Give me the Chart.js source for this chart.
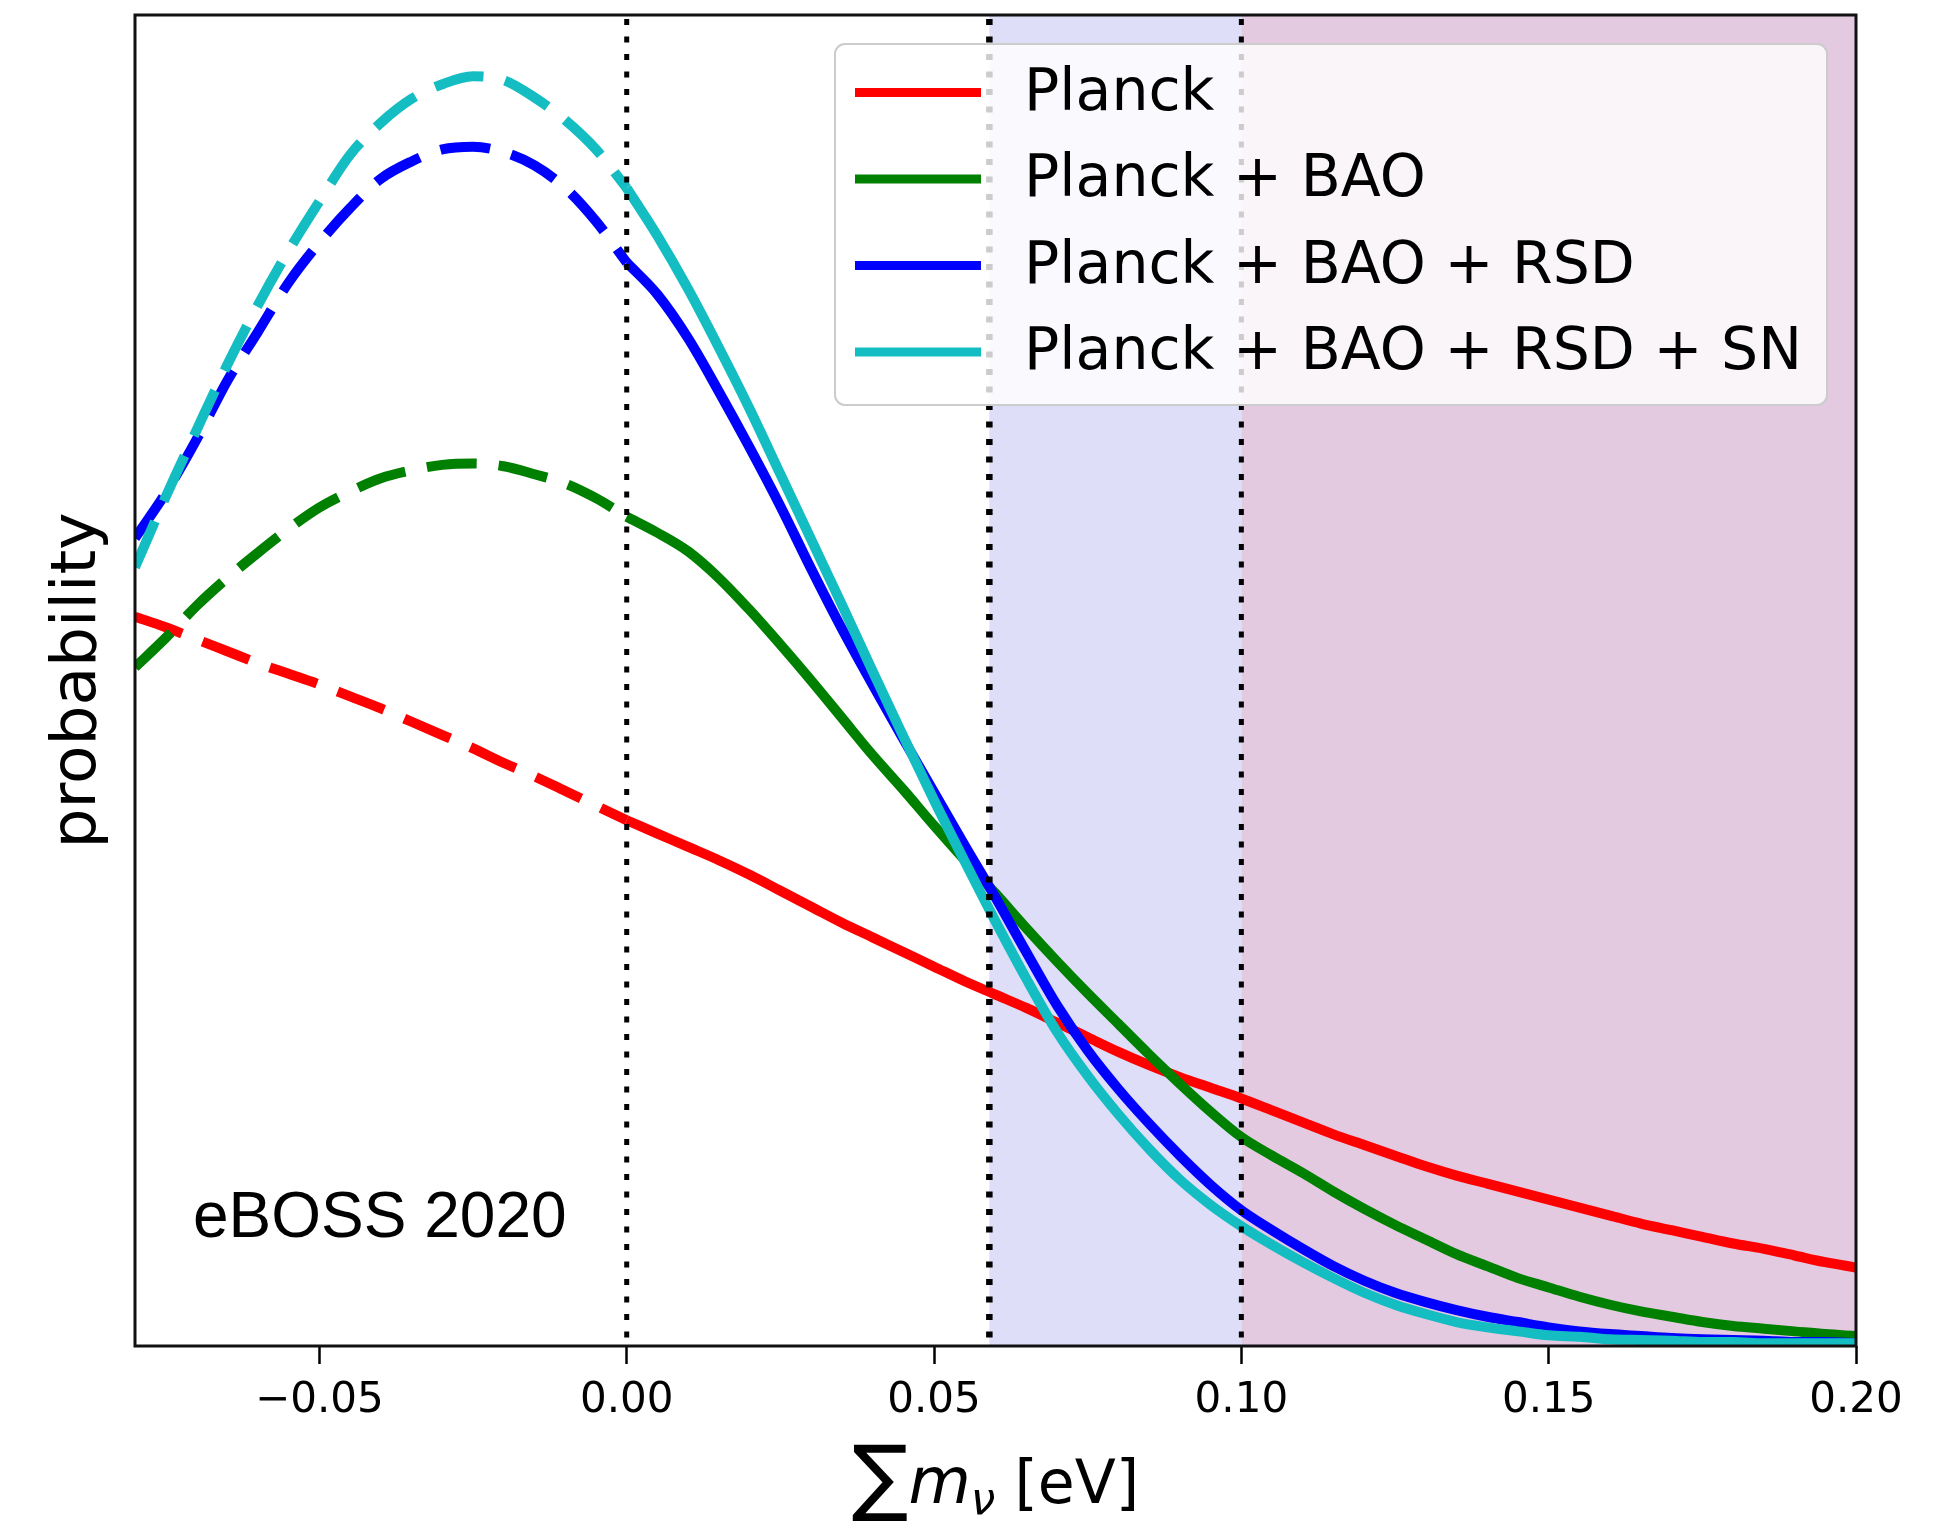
<!DOCTYPE html>
<html>
<head>
<meta charset="utf-8">
<title>Soma das massas dos neutrinos</title>
<script src="https://cdn.jsdelivr.net/npm/chart.js@4.4.1/dist/chart.umd.min.js"></script>
<style>
  html, body { margin: 0; padding: 0; background: #fff; }
</style>
</head>
<body>
<canvas id="grafico-neutrinos" width="1953" height="1527"></canvas>
<script>
// eixo x em eV: trecho tracejado (x <= 0) e trecho contínuo (x >= 0)
const xNegativo = [-0.08, -0.075, -0.07, -0.065, -0.06, -0.055, -0.05, -0.045, -0.04,
  -0.035, -0.03, -0.025, -0.02, -0.015, -0.01, -0.005, 0];
const xPositivo = [0, 0.005, 0.01, 0.015, 0.02, 0.025, 0.03, 0.035, 0.04, 0.045, 0.05,
  0.055, 0.06, 0.065, 0.07, 0.075, 0.08, 0.085, 0.09, 0.095, 0.1, 0.105, 0.11, 0.115,
  0.12, 0.125, 0.13, 0.135, 0.14, 0.145, 0.15, 0.155, 0.16, 0.165, 0.17, 0.175, 0.18,
  0.185, 0.19, 0.195, 0.2];

const planckNeg = [0.548, 0.540, 0.531, 0.522, 0.513, 0.505, 0.497, 0.488, 0.479,
  0.469, 0.459, 0.449, 0.438, 0.428, 0.417, 0.406, 0.395];
const planckPos = [0.395, 0.385, 0.375, 0.365, 0.354, 0.342, 0.330, 0.318, 0.307, 0.296,
  0.285, 0.274, 0.264, 0.254, 0.243, 0.232, 0.221, 0.211, 0.202, 0.194, 0.186, 0.177,
  0.168, 0.159, 0.151, 0.143, 0.135, 0.128, 0.122, 0.116, 0.110, 0.104, 0.098, 0.092,
  0.087, 0.082, 0.077, 0.073, 0.068, 0.063, 0.059];

const baoNeg = [0.510, 0.532, 0.556, 0.577, 0.596, 0.614, 0.630, 0.642, 0.652,
  0.658, 0.662, 0.663, 0.661, 0.655, 0.648, 0.637, 0.623];
const baoPos = [0.623, 0.611, 0.597, 0.577, 0.553, 0.527, 0.500, 0.472, 0.444, 0.418,
  0.391, 0.365, 0.340, 0.314, 0.289, 0.265, 0.242, 0.219, 0.197, 0.176, 0.157, 0.143,
  0.130, 0.116, 0.103, 0.091, 0.080, 0.069, 0.060, 0.051, 0.044, 0.037, 0.031, 0.026,
  0.022, 0.018, 0.015, 0.013, 0.011, 0.009, 0.0075];

const rsdNeg = [0.607, 0.641, 0.681, 0.725, 0.762, 0.799, 0.829, 0.855, 0.877,
  0.890, 0.899, 0.901, 0.897, 0.887, 0.870, 0.845, 0.814];
const rsdPos = [0.814, 0.790, 0.757, 0.717, 0.675, 0.631, 0.584, 0.539, 0.497, 0.456,
  0.416, 0.376, 0.337, 0.296, 0.256, 0.222, 0.193, 0.167, 0.143, 0.121, 0.102, 0.087,
  0.073, 0.060, 0.049, 0.040, 0.033, 0.027, 0.022, 0.018, 0.014, 0.011, 0.009, 0.0075,
  0.006, 0.005, 0.0045, 0.004, 0.003, 0.003, 0.002];

const snNeg = [0.585, 0.638, 0.688, 0.737, 0.782, 0.823, 0.860, 0.895, 0.919,
  0.937, 0.948, 0.954, 0.951, 0.938, 0.921, 0.899, 0.870];
const snPos = [0.870, 0.834, 0.794, 0.750, 0.704, 0.655, 0.606, 0.557, 0.507, 0.458,
  0.410, 0.364, 0.319, 0.276, 0.236, 0.203, 0.174, 0.148, 0.125, 0.106, 0.090, 0.076,
  0.063, 0.051, 0.040, 0.031, 0.024, 0.018, 0.014, 0.011, 0.008, 0.007, 0.005, 0.0045,
  0.004, 0.003, 0.003, 0.002, 0.002, 0.002, 0.002];

const rotulos = ["Planck", "Planck + BAO", "Planck + BAO + RSD", "Planck + BAO + RSD + SN"];
const cores = ["#ff0000", "#008000", "#0000ff", "#14bdc2"];

const xTicks = [-0.05, 0, 0.05, 0.1, 0.15, 0.2];
const limites = [0, 0.059, 0.1];
const faixas = [[0.059, 0.1], [0.1, 0.2]];
const coresFaixas = ["#dfdef9", "#e3cae1"];

document.addEventListener("DOMContentLoaded", () => {
  const pontos = (xs, ys) => xs.map((x, i) => ({ x: x, y: ys[i] }));

  const series = [
    { neg: planckNeg, pos: planckPos },
    { neg: baoNeg, pos: baoPos },
    { neg: rsdNeg, pos: rsdPos },
    { neg: snNeg, pos: snPos }
  ];

  // o Chart.js desenha o primeiro dataset por cima, então a ordem vai invertida
  const datasets = [];
  for (let i = series.length - 1; i >= 0; i--) {
    datasets.push({
      label: rotulos[i],
      data: pontos(xPositivo, series[i].pos),
      borderColor: cores[i],
      borderWidth: 10,
      cubicInterpolationMode: "monotone",
      pointRadius: 0
    });
    datasets.push({
      label: rotulos[i] + " (x<0)",
      data: pontos(xNegativo, series[i].neg),
      borderColor: cores[i],
      borderWidth: 10,
      borderDash: [50, 22],
      borderCapStyle: "butt",
      cubicInterpolationMode: "monotone",
      pointRadius: 0
    });
  }

  const faixasFundo = {
    id: "faixasFundo",
    beforeDatasetsDraw(chart) {
      const { ctx, chartArea: a, scales: { x } } = chart;
      ctx.save();
      faixas.forEach((f, i) => {
        const x0 = x.getPixelForValue(f[0]);
        const x1 = x.getPixelForValue(f[1]);
        ctx.fillStyle = coresFaixas[i];
        ctx.fillRect(x0, a.top, x1 - x0, a.bottom - a.top);
      });
      ctx.restore();
    }
  };

  const extras = {
    id: "extras",
    afterDatasetsDraw(chart) {
      const { ctx, chartArea: a, scales: { x } } = chart;
      ctx.save();

      // linhas pontilhadas verticais
      ctx.strokeStyle = "#000";
      limites.forEach((v, i) => {
        const px = x.getPixelForValue(v);
        ctx.lineWidth = i === 1 ? 6.5 : 5;
        ctx.setLineDash([6, 11.5]);
        ctx.beginPath();
        ctx.moveTo(px, a.top + 4);
        ctx.lineTo(px, a.bottom);
        ctx.stroke();
      });
      ctx.setLineDash([]);

      // texto no canto inferior esquerdo
      ctx.fillStyle = "#000";
      ctx.font = "64px 'Liberation Sans'";
      ctx.textBaseline = "alphabetic";
      ctx.textAlign = "left";
      ctx.fillText("eBOSS 2020", a.left + 58, a.bottom - 109);

      // legenda
      const bx = a.left + 700, by = a.top + 29, bw = 992, bh = 361;
      ctx.beginPath();
      ctx.roundRect(bx, by, bw, bh, 10);
      ctx.fillStyle = "rgba(255,255,255,0.8)";
      ctx.fill();
      ctx.lineWidth = 2;
      ctx.strokeStyle = "#cccccc";
      ctx.stroke();

      ctx.font = "58.5px 'DejaVu Sans'";
      ctx.textBaseline = "middle";
      rotulos.forEach((r, i) => {
        const y = by + 48.5 + i * 86.5;
        ctx.strokeStyle = cores[i];
        ctx.lineWidth = 9;
        ctx.beginPath();
        ctx.moveTo(bx + 20, y);
        ctx.lineTo(bx + 146, y);
        ctx.stroke();
        ctx.fillStyle = "#000";
        ctx.fillText(r, bx + 189, y + 2);
      });
      ctx.restore();
    },
    afterDraw(chart) {
      const { ctx, chartArea: a } = chart;
      ctx.save();
      // moldura
      ctx.strokeStyle = "#111";
      ctx.lineWidth = 3;
      ctx.strokeRect(a.left, a.top, a.right - a.left, a.bottom - a.top);

      // título do eixo x: soma de m_nu [eV]
      const partes = [
        { t: "\u2211", f: "84px 'DejaVu Sans'", dy: 2 },
        { t: "m", f: "italic 64px 'DejaVu Sans'", dy: 0 },
        { t: "\u03bd", f: "italic 44px 'DejaVu Sans'", dy: 11 },
        { t: " [eV]", f: "60px 'DejaVu Sans'", dy: 0 }
      ];
      let total = 0;
      partes.forEach(p => { ctx.font = p.f; p.w = ctx.measureText(p.t).width; total += p.w; });
      let px = (a.left + a.right) / 2 - total / 2;
      const base = a.bottom + 157;
      ctx.fillStyle = "#000";
      ctx.textBaseline = "alphabetic";
      ctx.textAlign = "left";
      partes.forEach(p => {
        ctx.font = p.f;
        ctx.fillText(p.t, px, base + p.dy);
        px += p.w;
      });
      ctx.restore();
    }
  };

  new Chart(document.getElementById("grafico-neutrinos"), {
    type: "line",
    data: { datasets: datasets },
    options: {
      responsive: false,
      animation: false,
      devicePixelRatio: 1,
      layout: { padding: { top: 15, right: 97, left: 0, bottom: 0 } },
      plugins: {
        legend: { display: false },
        tooltip: { enabled: false }
      },
      scales: {
        x: {
          type: "linear",
          min: -0.08,
          max: 0.2,
          afterBuildTicks: s => { s.ticks = xTicks.map(v => ({ value: v })); },
          afterFit: s => { s.height = 181; },
          border: { display: false },
          grid: {
            drawOnChartArea: false,
            drawTicks: true,
            tickLength: 18,
            tickWidth: 2.5,
            tickColor: "#000"
          },
          ticks: {
            color: "#000",
            font: { family: "DejaVu Sans", size: 42 },
            padding: 12,
            maxRotation: 0,
            autoSkip: false,
            callback: v => v.toFixed(2).replace("-", "\u2212")
          }
        },
        y: {
          min: 0,
          max: 1,
          afterFit: s => { s.width = 135; },
          border: { display: false },
          grid: { display: false },
          ticks: { display: false },
          title: {
            display: true,
            text: "probability",
            color: "#000",
            font: { family: "DejaVu Sans", size: 63 },
            padding: { top: 41, bottom: 0 }
          }
        }
      }
    },
    plugins: [faixasFundo, extras]
  });
});
</script>
</body>
</html>
